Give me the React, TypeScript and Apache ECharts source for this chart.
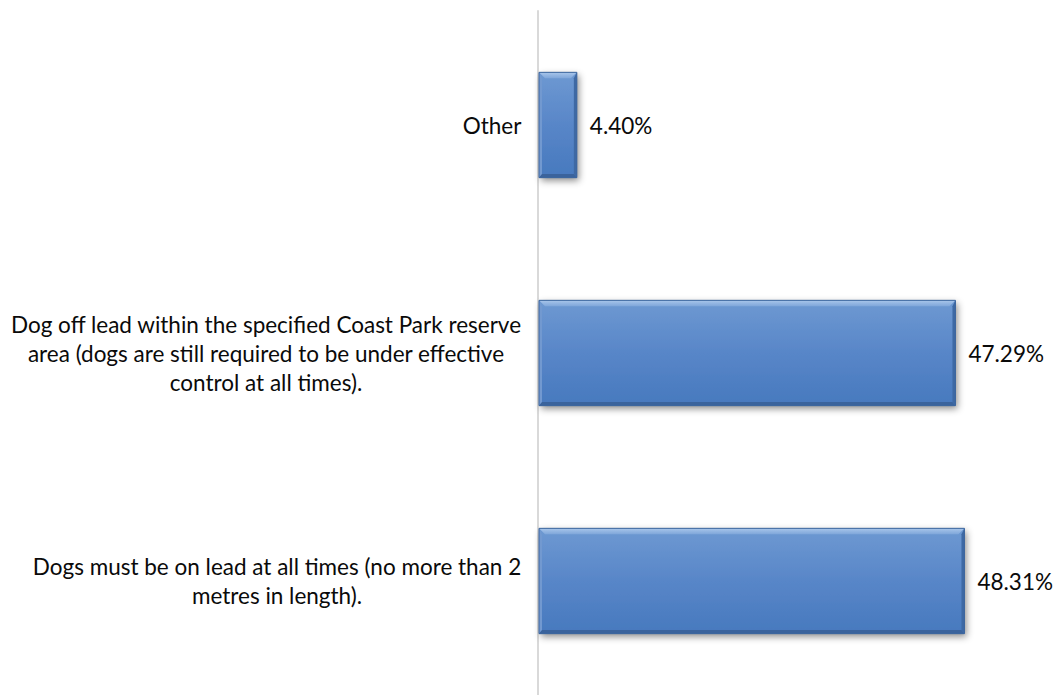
import React, { useEffect, useRef } from "react";
import * as echarts from "echarts";

const categories: string[] = [
  "Other",
  "Dog off lead within the specified Coast Park reserve\narea (dogs are still required to be under effective\ncontrol at all times).",
  "Dogs must be on lead at all times (no more than 2\nmetres in length).",
];
const values: number[] = [4.4, 47.29, 48.31];

const FONT_FAMILY = "Lato";
const FONT_SIZE = 22.5;
const LINE_HEIGHT = 29;

function measure(text: string): number {
  const ctx = document.createElement("canvas").getContext("2d");
  if (!ctx) return text.length * FONT_SIZE * 0.5;
  ctx.font = `${FONT_SIZE}px ${FONT_FAMILY}`;
  return ctx.measureText(text).width;
}

export default function App() {
  const ref = useRef<HTMLDivElement>(null);
  useEffect(() => {
    if (!ref.current) return;
    const chart = echarts.init(ref.current, null, { renderer: "svg" });

    const rich: Record<string, any> = {};
    categories.forEach((c, i) => {
      const w = Math.ceil(Math.max(...c.split("\n").map(measure))) + 1;
      rich["c" + i] = {
        width: w,
        align: "center",
        fontSize: FONT_SIZE,
        fontFamily: FONT_FAMILY,
        lineHeight: LINE_HEIGHT,
        color: "#0a0a0a",
      };
    });

    const face = new echarts.graphic.LinearGradient(0, 0, 0, 1, [
      { offset: 0, color: "#6E99D2" },
      { offset: 0.5, color: "#5886C8" },
      { offset: 1, color: "#4779BE" },
    ]);
    const topBevel = new echarts.graphic.LinearGradient(0, 0, 0, 1, [
      { offset: 0, color: "#A9C6EA" },
      { offset: 1, color: "#7EA6DA" },
    ]);

    chart.setOption({
      animation: false,
      backgroundColor: "#fff",
      grid: { left: 538, right: 6, top: 11, height: 688, containLabel: false },
      xAxis: {
        type: "value",
        min: 0,
        max: 58,
        show: false,
        splitLine: { show: false },
      },
      yAxis: {
        type: "category",
        data: categories,
        inverse: true,
        axisLine: { show: true, lineStyle: { color: "#D9D9D9", width: 2 } },
        axisTick: { show: false },
        axisLabel: {
          margin: 16,
          align: "right",
          formatter: (val: string, idx: number) =>
            val
              .split("\n")
              .map((l) => `{c${idx}|${l}}`)
              .join("\n"),
          rich,
        },
      },
      series: [
        {
          type: "custom",
          encode: { x: 0, y: 1 },
          data: values.map((v, i) => [v, i]),
          renderItem: (params: any, api: any) => {
            const v = api.value(0);
            const ci = api.value(1);
            const p0 = api.coord([0, ci]);
            const p1 = api.coord([v, ci]);
            const bandH = api.size([0, 1])[1];
            const h = bandH * 0.462;
            const x0 = p0[0] + 1;
            const x1 = p1[0];
            const y0 = p0[1] - h / 2;
            const y1 = p0[1] + h / 2;
            const b = Math.min(6, (x1 - x0) / 3);
            return {
              type: "group",
              children: [
                {
                  type: "rect",
                  shape: { x: x0, y: y0, width: x1 - x0, height: h },
                  style: {
                    fill: face,
                    shadowBlur: 7,
                    shadowOffsetX: 2,
                    shadowOffsetY: 3,
                    shadowColor: "rgba(0,0,0,0.45)",
                  },
                },
                {
                  type: "polygon",
                  shape: {
                    points: [
                      [x0, y0],
                      [x1, y0],
                      [x1 - b, y0 + b],
                      [x0 + b, y0 + b],
                    ],
                  },
                  style: { fill: topBevel },
                },
                {
                  type: "polygon",
                  shape: {
                    points: [
                      [x0, y0],
                      [x0 + b * 0.5, y0 + b],
                      [x0 + b * 0.5, y1 - b * 0.5],
                      [x0, y1],
                    ],
                  },
                  style: { fill: "#7299D0" },
                },
                {
                  type: "polygon",
                  shape: {
                    points: [
                      [x1, y0],
                      [x1, y1],
                      [x1 - b * 0.5, y1 - b * 0.6],
                      [x1 - b * 0.5, y0 + b],
                    ],
                  },
                  style: { fill: "#3E69A4" },
                },
                {
                  type: "polygon",
                  shape: {
                    points: [
                      [x0, y1],
                      [x1, y1],
                      [x1 - b * 0.5, y1 - b * 0.6],
                      [x0 + b * 0.5, y1 - b * 0.6],
                    ],
                  },
                  style: { fill: "#3A639C" },
                },
                {
                  type: "rect",
                  shape: { x: x0, y: y0, width: x1 - x0, height: h },
                  style: { fill: "none", stroke: "#3C659D", lineWidth: 1 },
                },
                {
                  type: "text",
                  x: x1 + 13,
                  y: (y0 + y1) / 2,
                  style: {
                    text: v.toFixed(2) + "%",
                    fill: "#0a0a0a",
                    fontSize: FONT_SIZE,
                    fontFamily: FONT_FAMILY,
                    align: "left",
                    verticalAlign: "middle",
                  },
                },
              ],
            };
          },
        },
      ],
    });
    return () => chart.dispose();
  }, []);
  return (
    <div
      ref={ref}
      style={{ position: "fixed", left: 0, top: 0, width: 1056, height: 695 }}
    />
  );
}
